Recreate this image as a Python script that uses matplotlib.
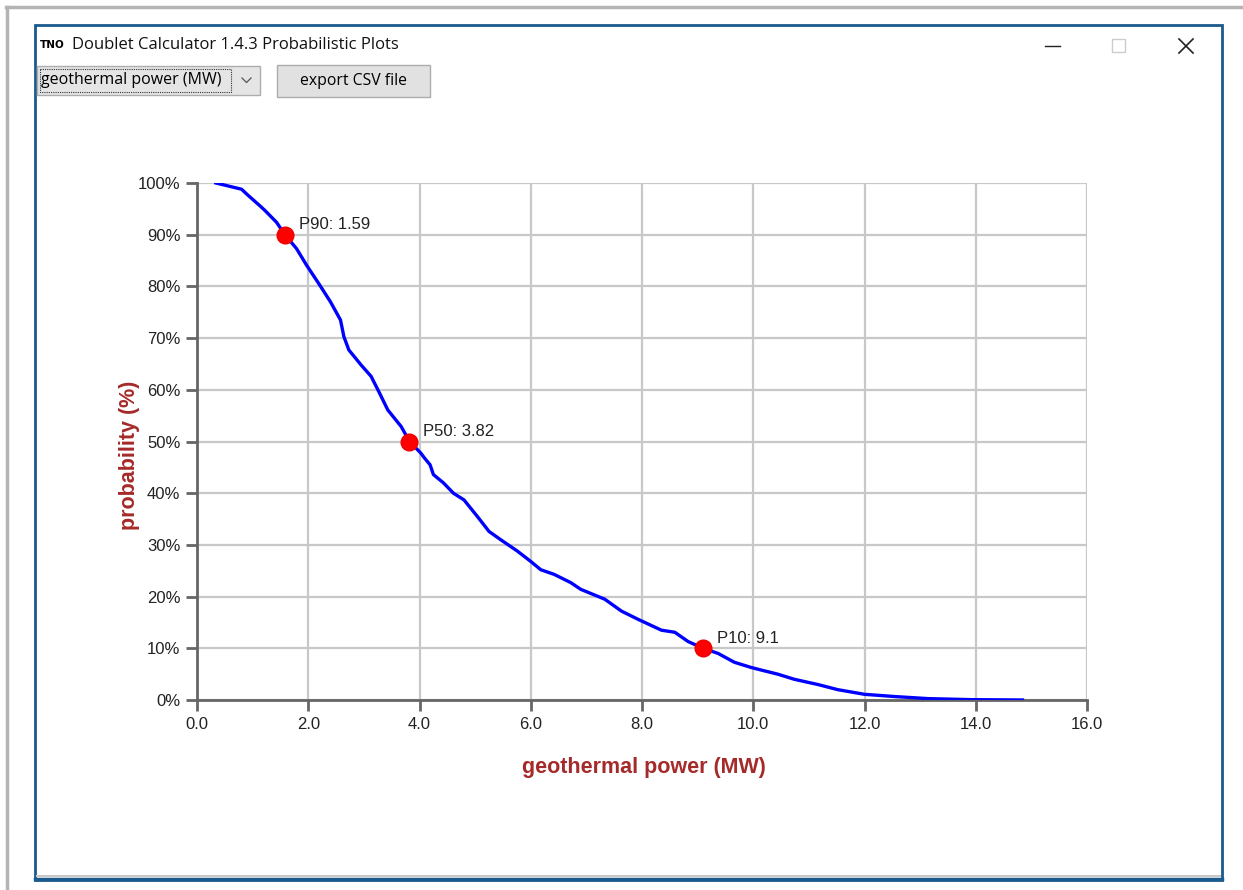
import numpy as np
import matplotlib.pyplot as plt
from matplotlib.patches import Rectangle
from matplotlib.lines import Line2D

# exceedance curve
power_mw = [0.34, 0.80, 0.92, 1.13, 1.22, 1.43, 1.58, 1.79, 1.97, 2.21, 2.40,
            2.58, 2.64, 2.73, 2.95, 3.13, 3.28, 3.43, 3.67, 3.82, 4.02, 4.09,
            4.19, 4.25, 4.43, 4.61, 4.80, 5.04, 5.25, 5.46, 5.76, 6.00, 6.18,
            6.42, 6.72, 6.90, 7.33, 7.63, 7.93, 8.35, 8.59, 8.83, 9.10, 9.37,
            9.66, 9.96, 10.14, 10.44, 10.74, 11.16, 11.52, 12.00, 12.54, 13.14,
            13.92, 14.84]
prob_pct = [100.0, 98.8, 97.6, 95.6, 94.7, 92.4, 90.0, 87.3, 84.1, 80.2, 77.0,
            73.5, 70.3, 67.7, 64.8, 62.6, 59.4, 56.1, 52.9, 50.0, 47.8, 46.8,
            45.5, 43.6, 42.0, 40.0, 38.7, 35.5, 32.6, 31.0, 28.8, 26.8, 25.2,
            24.3, 22.7, 21.4, 19.5, 17.2, 15.6, 13.5, 13.1, 11.3, 10.0, 9.0,
            7.3, 6.3, 5.8, 5.0, 4.0, 3.0, 2.0, 1.1, 0.67, 0.27, 0.07, 0.0]

p_labels = ["P90: 1.59", "P50: 3.82", "P10: 9.1"]
p_values = [1.59, 3.82, 9.1]
p_levels = [90, 50, 10]

x_ticks = np.arange(0, 16.1, 2)
y_ticks = np.arange(0, 101, 10)

W, H = 1243, 890
fig = plt.figure(figsize=(W / 100, H / 100), dpi=100)
fig.patch.set_facecolor("white")

# full-figure overlay in pixel coords (y down) for the window chrome
bg = fig.add_axes([0, 0, 1, 1])
bg.set_xlim(0, W)
bg.set_ylim(H, 0)
bg.axis("off")

bg.add_line(Line2D([6, W], [7, 7], color="#b4b4b4", lw=2.5))
bg.add_line(Line2D([7.5, 7.5], [7, H], color="#b4b4b4", lw=2.5))
bg.add_patch(Rectangle((35, 25), 1187, 855, fill=False, ec="#1a5a8c", lw=2))
bg.add_line(Line2D([35, 1222], [879, 879], color="#1a5a8c", lw=2.5))
bg.add_line(Line2D([37, 1220], [876, 876], color="#c8c8c8", lw=1.5))

ui_font = ["Open Sans", "DejaVu Sans"]
bg.text(40, 45, "TNO", fontsize=7.5, fontweight="heavy", va="center",
        family=["DejaVu Sans"])
bg.text(72, 45, "Doublet Calculator 1.4.3 Probabilistic Plots", fontsize=12,
        va="center", family=ui_font, color="#111111")
bg.add_line(Line2D([1045, 1060], [46, 46], color="#222222", lw=1))
bg.add_patch(Rectangle((1112, 39), 13, 13, fill=False, ec="#cccccc", lw=1))
bg.add_line(Line2D([1179, 1193], [39, 53], color="#222222", lw=1.2))
bg.add_line(Line2D([1179, 1193], [53, 39], color="#222222", lw=1.2))

bg.add_patch(Rectangle((37, 66), 223, 29, fc="#e5e5e5", ec="#adadad", lw=1))
bg.add_patch(Rectangle((40, 69), 191, 23, fill=False, ec="#333333", lw=0.8, ls=(0, (1, 1))))
bg.text(41, 80.5, "geothermal power (MW)", fontsize=11.5, va="center", family=ui_font)
bg.add_line(Line2D([242, 246.5, 251], [78, 82.5, 78], color="#555555", lw=0.9))

bg.add_patch(Rectangle((277, 65), 153, 32, fc="#e1e1e1", ec="#adadad", lw=1))
bg.text(353.5, 81, "export CSV file", fontsize=11.3, va="center", ha="center", family=ui_font)

# the chart
ax = fig.add_axes([197 / W, 1 - 700 / H, 890 / W, 517 / H])
ax.set_xlim(0, 16)
ax.set_ylim(0, 100)

ax.plot(power_mw, prob_pct, color="#0000ff", lw=2.4, zorder=3)
ax.plot(p_values, p_levels, "o", color="#ff0000", ms=12, mec="#ee0000", zorder=4)
for lbl, xv, yv in zip(p_labels, p_values, p_levels):
    ax.annotate(lbl, (xv, yv), xytext=(10, 4), textcoords="offset points",
                fontsize=12, family=["Liberation Sans", "DejaVu Sans"],
                color="#222222", zorder=5)

ax.set_xticks(x_ticks)
ax.set_xticklabels([f"{v:.1f}" for v in x_ticks])
ax.set_yticks(y_ticks)
ax.set_yticklabels([f"{v}%" for v in y_ticks])
ax.grid(True, color="#c8c8c8", lw=1.6, zorder=0)
ax.set_axisbelow(True)

for s in ["top", "right"]:
    ax.spines[s].set_visible(False)
for s in ["left", "bottom"]:
    ax.spines[s].set_color("#666666")
    ax.spines[s].set_linewidth(2)
ax.tick_params(axis="both", length=8, width=2, color="#666666",
               labelsize=12, labelcolor="#222222", pad=4)
for t in ax.get_xticklabels() + ax.get_yticklabels():
    t.set_family(["Liberation Sans", "DejaVu Sans"])

ax.set_xlabel("geothermal power (MW)", fontsize=15.5, fontweight="bold",
              color="#a52a2a", family=["Liberation Sans", "DejaVu Sans"])
ax.set_ylabel("probability (%)", fontsize=15.5, fontweight="bold",
              color="#a52a2a", family=["Liberation Sans", "DejaVu Sans"])
ax.xaxis.set_label_coords((644 - 197) / 890, -(768 - 700) / 517)
ax.yaxis.set_label_coords(-(197 - 130) / 890, (700 - 455) / 517)
ax.xaxis.label.set_va("center")
ax.yaxis.label.set_va("center")

fig.savefig("out.png", dpi=100)
